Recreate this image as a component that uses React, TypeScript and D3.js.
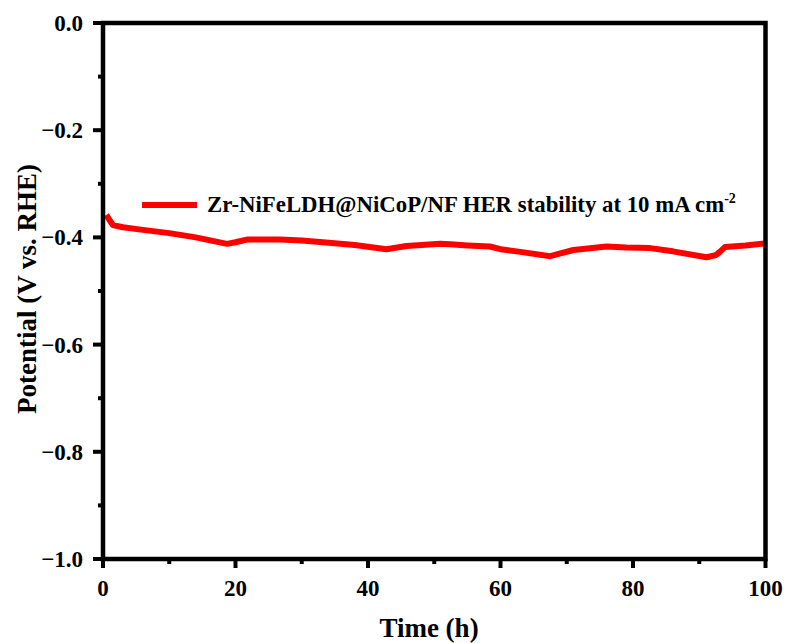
import React from 'react'
import * as d3 from 'd3'

// stability run, potential
const hours = [0.5, 1, 1.5, 3, 6, 10, 14, 18.7, 20, 21.7, 26.7, 30, 33.2, 38, 42.8, 45.8, 50.9, 52.4, 55, 58.4, 60, 63, 67.5, 71, 76, 79, 82.6, 86, 91.1, 92.5, 93.1, 93.9, 97, 100]
const potential = [-0.358, -0.368, -0.377, -0.381, -0.386, -0.392, -0.4, -0.412, -0.409, -0.404, -0.404, -0.406, -0.409, -0.414, -0.422, -0.416, -0.412, -0.413, -0.415, -0.417, -0.422, -0.427, -0.435, -0.4235, -0.417, -0.419, -0.42, -0.426, -0.437, -0.433, -0.427, -0.418, -0.415, -0.411]

const xTicks = [0, 20, 40, 60, 80, 100]
const yTicks = [0, -0.2, -0.4, -0.6, -0.8, -1.0]
const legendLabel = 'Zr-NiFeLDH@NiCoP/NF HER stability at 10 mA cm'

const W = 787
const H = 643
const font = '"Liberation Serif", "Times New Roman", serif'

export default function App() {
  const x = d3.scaleLinear().domain([0, 100]).range([103, 765.5])
  const y = d3.scaleLinear().domain([-1, 0]).range([559, 23])

  const line = d3.line<number>()
    .x((d, i) => x(hours[i]))
    .y(d => y(d))

  const xMinor = d3.range(10, 100, 20)
  const yMinor = d3.range(-0.9, 0, 0.2)

  return (
    <div style={{ position: 'absolute', left: 0, top: 0 }}>
      <svg width={W} height={H} style={{ display: 'block', background: '#fff' }}>
        <path d={line(potential) ?? ''} fill="none" stroke="#ff0000" strokeWidth={6} strokeLinejoin="round" />

        {/* frame */}
        <rect x={x(0)} y={y(0)} width={x(100) - x(0)} height={y(-1) - y(0)}
          fill="none" stroke="#000" strokeWidth={4.5} />

        {/* x ticks */}
        {xTicks.map(t => (
          <g key={'x' + t}>
            <line x1={x(t)} x2={x(t)} y1={y(-1)} y2={y(-1) + 9} stroke="#000" strokeWidth={4} />
            <text x={x(t)} y={596} textAnchor="middle" fontFamily={font} fontWeight="bold" fontSize={23}>{t}</text>
          </g>
        ))}
        {xMinor.map(t => (
          <line key={'xm' + t} x1={x(t)} x2={x(t)} y1={y(-1)} y2={y(-1) + 5} stroke="#000" strokeWidth={4} />
        ))}

        {/* y ticks */}
        {yTicks.map(t => (
          <g key={'y' + t}>
            <line x1={x(0) - 10} x2={x(0)} y1={y(t)} y2={y(t)} stroke="#000" strokeWidth={4} />
            <text x={83} y={y(t)} dy="0.35em" textAnchor="end" fontFamily={font} fontWeight="bold" fontSize={23}>
              {t === 0 ? '0.0' : d3.format('.1f')(t).replace('-', '\u2212')}
            </text>
          </g>
        ))}
        {yMinor.map(t => (
          <line key={'ym' + t} x1={x(0) - 5} x2={x(0)} y1={y(t)} y2={y(t)} stroke="#000" strokeWidth={4} />
        ))}

        {/* axis titles */}
        <text x={429} y={637} textAnchor="middle" fontFamily={font} fontWeight="bold" fontSize={27}>Time (h)</text>
        <text transform="translate(36,289) rotate(-90)" textAnchor="middle" fontFamily={font} fontWeight="bold" fontSize={27}>
          Potential (V vs. RHE)
        </text>

        {/* legend */}
        <line x1={142} x2={197} y1={205} y2={205} stroke="#ff0000" strokeWidth={6} />
        <text x={207} y={212} fontFamily={font} fontWeight="bold" fontSize={22.8}>
          {legendLabel}
          <tspan dy={-9} fontSize={14}>-2</tspan>
        </text>
      </svg>
    </div>
  )
}
